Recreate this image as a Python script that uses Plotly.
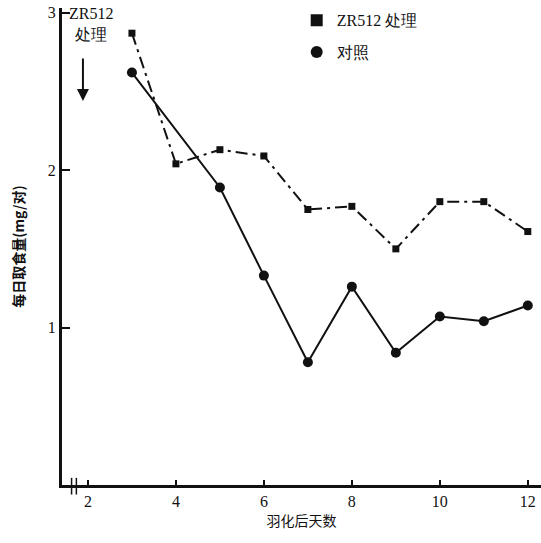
import plotly.graph_objects as go

days_trt = [3, 4, 5, 6, 7, 8, 9, 10, 11, 12]
trt_vals = [2.87, 2.04, 2.13, 2.09, 1.75, 1.77, 1.50, 1.80, 1.80, 1.61]
days_ctl = [3, 5, 6, 7, 8, 9, 10, 11, 12]
ctl_vals = [2.62, 1.89, 1.33, 0.78, 1.26, 0.84, 1.07, 1.04, 1.14]
x_ticks = [2, 4, 6, 8, 10, 12]
y_ticks = [1, 2, 3]
trt_name = "ZR512 处理"
ctl_name = "对照"

FONT = "Liberation Serif"
CJK = "Noto Sans CJK SC"

fig = go.Figure()
fig.add_trace(go.Scatter(
    x=days_trt, y=trt_vals, name=trt_name, mode="lines+markers", showlegend=False,
    line=dict(color="#111", width=2, dash="12px,5px,3px,5px"),
    marker=dict(symbol="square", size=7, color="#111"),
))
fig.add_trace(go.Scatter(
    x=days_ctl, y=ctl_vals, name=ctl_name, mode="lines+markers", showlegend=False,
    line=dict(color="#111", width=2),
    marker=dict(symbol="circle", size=10, color="#111"),
))
# legend entries (markers only, as in the reference)
fig.add_trace(go.Scatter(x=[None], y=[None], name=trt_name, mode="markers",
                         legendgroup="a",
                         marker=dict(symbol="square", size=7, color="#111")))
fig.add_trace(go.Scatter(x=[None], y=[None], name=ctl_name, mode="markers",
                         legendgroup="b",
                         marker=dict(symbol="circle", size=9, color="#111")))

fig.update_layout(
    width=541, height=543,
    margin=dict(l=62, r=0, t=8, b=58),
    paper_bgcolor="white", plot_bgcolor="white",
    font=dict(family=FONT, color="#111", size=14),
    showlegend=True,
    legend=dict(x=0.49, y=1.01, xanchor="left", yanchor="top",
                bgcolor="rgba(0,0,0,0)", font=dict(size=16, family=FONT),
                itemsizing="constant", tracegroupgap=8, itemwidth=30),
    xaxis=dict(range=[1.41, 12.3], tickvals=x_ticks, showgrid=False, zeroline=False,
               showline=True, linecolor="#111", linewidth=2.5,
               ticks="inside", ticklen=5, tickwidth=2, tickcolor="#111",
               tickfont=dict(size=16, family=FONT),
               title=dict(text="羽化后天数", font=dict(size=14, family=CJK), standoff=8)),
    yaxis=dict(range=[0, 3.03], tickvals=y_ticks, showgrid=False, zeroline=False,
               showline=True, linecolor="#111", linewidth=3,
               ticks="inside", ticklen=8, tickwidth=2, tickcolor="#111",
               tickfont=dict(size=16, family=FONT),
               title=dict(text="<b>每日取食量(mg/对)</b>", font=dict(size=14, family=CJK), standoff=20)),
)

# "ZR512 处理" label with a vertical arrow
fig.add_annotation(
    x=0.06, y=1.01, xref="paper", yref="paper", xanchor="center", yanchor="top",
    text="ZR512<br>处理", showarrow=False,
    font=dict(size=16, family=FONT), align="center",
)
fig.add_annotation(
    x=1.886, y=2.44, xref="x", yref="y", text="",
    showarrow=True, arrowhead=2, arrowsize=1.2, arrowwidth=2,
    arrowcolor="#111", ax=0, ay=-44,
)

# axis break marks near the origin
for xp in [0.02, 0.03]:
    fig.add_shape(type="line", xref="paper", yref="paper",
                  x0=xp, x1=xp, y0=-0.02, y1=0.015,
                  line=dict(color="#111", width=1.5))

fig.write_html("out.html")
